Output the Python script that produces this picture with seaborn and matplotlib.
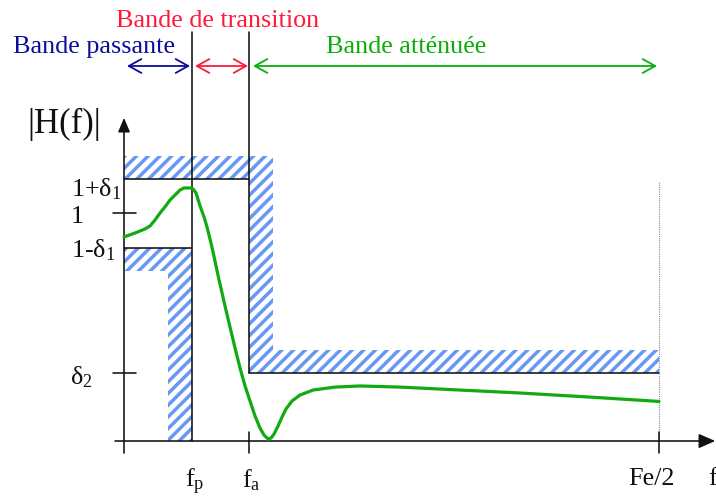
import matplotlib
matplotlib.use("Agg")
import numpy as np
import matplotlib.pyplot as plt
from matplotlib.patches import Polygon, FancyArrowPatch
from matplotlib.collections import LineCollection
from matplotlib.transforms import IdentityTransform
import seaborn as sns

# Low-pass filter template (gabarit)
f_p = 1.27       # passband edge frequency
f_a = 2.34       # stopband edge frequency
f_e2 = 10.0      # Fe/2
delta1 = 0.152   # passband ripple
delta2 = 0.30    # stopband attenuation

# Frequency response |H(f)| of the designed filter
freq = [0.000, 0.206, 0.393, 0.486, 0.579, 0.673, 0.766, 0.860, 0.953, 1.047,
        1.121, 1.234, 1.290, 1.346, 1.421, 1.495, 1.551, 1.607, 1.664, 1.720,
        1.776, 1.832, 1.888, 1.981, 2.075, 2.168, 2.262, 2.355, 2.449, 2.542,
        2.617, 2.692, 2.748, 2.804, 2.879, 2.953, 3.028, 3.140, 3.290, 3.533,
        3.944, 4.411, 5.159, 6.280, 7.402, 8.710, 10.000]
gain = [0.897, 0.914, 0.932, 0.945, 0.971, 1.002, 1.029, 1.059, 1.081, 1.103,
        1.112, 1.112, 1.108, 1.090, 1.033, 0.985, 0.941, 0.888, 0.831, 0.769,
        0.708, 0.651, 0.593, 0.501, 0.409, 0.321, 0.242, 0.176, 0.110, 0.057,
        0.026, 0.009, 0.013, 0.031, 0.066, 0.105, 0.141, 0.176, 0.202, 0.224,
        0.237, 0.242, 0.237, 0.224, 0.211, 0.193, 0.174]

band_labels = ["Bande passante", "Bande de transition", "Bande atténuée"]
band_colors = ["#0c0c9c", "#ff1a3c", "#0aae0a"]

sns.set_theme(style="white")
plt.rcParams["font.family"] = ["Liberation Serif", "DejaVu Serif"]
plt.rcParams["mathtext.fontset"] = "custom"
plt.rcParams["mathtext.rm"] = "Liberation Serif"
plt.rcParams["mathtext.it"] = "Liberation Serif:italic"
plt.rcParams["mathtext.bf"] = "Liberation Serif:bold"

W, H = 716, 497
fig = plt.figure(figsize=(W / 100, H / 100), dpi=100)
ax = fig.add_axes([0, 0, 1, 1])
ax.set_xlim(-2.318, 11.065)
ax.set_ylim(-0.246, 1.938)
ax.axis("off")

ink = "#111111"
hatch_color = "#6898f2"
bh = 0.10   # thickness of forbidden zones (vertical)
bw = 0.44   # thickness of forbidden zones (horizontal)

# Forbidden zones of the template
upper_zone = [(0, 1 + delta1 + bh), (f_a + bw, 1 + delta1 + bh), (f_a + bw, delta2 + bh),
              (f_e2, delta2 + bh), (f_e2, delta2), (f_a, delta2), (f_a, 1 + delta1),
              (0, 1 + delta1)]
lower_zone = [(0, 1 - delta1), (f_p, 1 - delta1), (f_p, 0), (f_p - bw, 0),
              (f_p - bw, 1 - delta1 - bh), (0, 1 - delta1 - bh)]

step = 11.7
offsets = np.arange(-H, W + step, step)
for zone in (upper_zone, lower_zone):
    patch = Polygon(zone, closed=True, facecolor="white", edgecolor="none", zorder=1)
    ax.add_patch(patch)
    segs = [[(c, 0), (c + H, H)] for c in offsets]
    stripes = LineCollection(segs, colors=hatch_color, linewidths=2.5,
                             transform=IdentityTransform(), zorder=1.5)
    stripes.set_clip_path(patch)
    ax.add_collection(stripes)

# Template boundaries
top = 1.798
lw = 1.15
ax.plot([f_p, f_p], [0, top], color=ink, lw=lw, zorder=3)
ax.plot([f_a, f_a], [delta2, top], color=ink, lw=lw, zorder=3)
ax.plot([0, f_a], [1 + delta1] * 2, color=ink, lw=lw, zorder=3)
ax.plot([0, f_p], [1 - delta1] * 2, color=ink, lw=lw, zorder=3)
ax.plot([f_a, f_e2], [delta2] * 2, color=ink, lw=lw, zorder=3)
ax.plot([f_e2, f_e2], [0, 1.138], color="#8a8a8a", lw=0.8, ls=(0, (1, 1)), zorder=3)

# Axes with arrows
ax.add_patch(FancyArrowPatch((-0.168, 0), (11.05, 0),
                             arrowstyle="-|>,head_length=10,head_width=4.4",
                             mutation_scale=1, color=ink, lw=lw, shrinkA=0, shrinkB=0, zorder=4))
ax.add_patch(FancyArrowPatch((0, -0.053), (0, 1.42),
                             arrowstyle="-|>,head_length=8.5,head_width=3.6",
                             mutation_scale=1, color=ink, lw=lw, shrinkA=0, shrinkB=0, zorder=4))
for yv in (1.0, delta2):
    ax.plot([-0.206, 0.224], [yv, yv], color=ink, lw=lw, zorder=4)
for xv in (f_a, f_e2):
    ax.plot([xv, xv], [0.04, -0.053], color=ink, lw=lw, zorder=4)

# Response curve
sns.lineplot(x=freq, y=gain, sort=False, estimator=None, color="#12aa12",
             lw=2.3, ax=ax, zorder=5, legend=False)
ax.lines[-1].set_solid_joinstyle("round")
ax.lines[-1].set_solid_capstyle("round")

# Band arrows
y_arr = 1.648
spans = [(0.056, f_p - 0.036), (f_p + 0.057, f_a - 0.022), (f_a + 0.071, f_e2 - 0.037)]
for (a, b), col in zip(spans, band_colors):
    ax.add_patch(FancyArrowPatch((a, y_arr), (b, y_arr),
                                 arrowstyle="<->,head_length=9,head_width=5",
                                 mutation_scale=1, color=col, lw=1.3,
                                 shrinkA=0, shrinkB=0, zorder=4))

fs = 18.8
ax.text(-2.075, 1.705, band_labels[0], color=band_colors[0], fontsize=fs, va="baseline", ha="left")
ax.text(-0.150, 1.820, band_labels[1], color=band_colors[1], fontsize=fs, va="baseline", ha="left")
ax.text(3.776, 1.705, band_labels[2], color=band_colors[2], fontsize=fs, va="baseline", ha="left")

ax.text(-1.80, 1.354, "|H(f)|", color=ink, fontsize=25, va="baseline", ha="left")
ax.text(-0.991, 1.077, r"1+δ$_{1}$", color=ink, fontsize=fs, va="baseline", ha="left")
ax.text(-0.991, 0.958, "1", color=ink, fontsize=fs, va="baseline", ha="left")
ax.text(-0.991, 0.808, r"1-δ$_{1}$", color=ink, fontsize=fs, va="baseline", ha="left")
ax.text(-1.009, 0.250, r"δ$_{2}$", color=ink, fontsize=fs, va="baseline", ha="left")
ax.text(1.14, -0.202, r"f$_\mathrm{p}$", color=ink, fontsize=fs, va="baseline", ha="left")
ax.text(2.206, -0.202, r"f$_\mathrm{a}$", color=ink, fontsize=fs, va="baseline", ha="left")
ax.text(9.85, -0.193, "Fe/2", color=ink, fontsize=fs, va="baseline", ha="center")
ax.text(10.916, -0.193, "f", color=ink, fontsize=fs, va="baseline", ha="left")

fig.savefig("out.png", dpi=100, facecolor="white")
